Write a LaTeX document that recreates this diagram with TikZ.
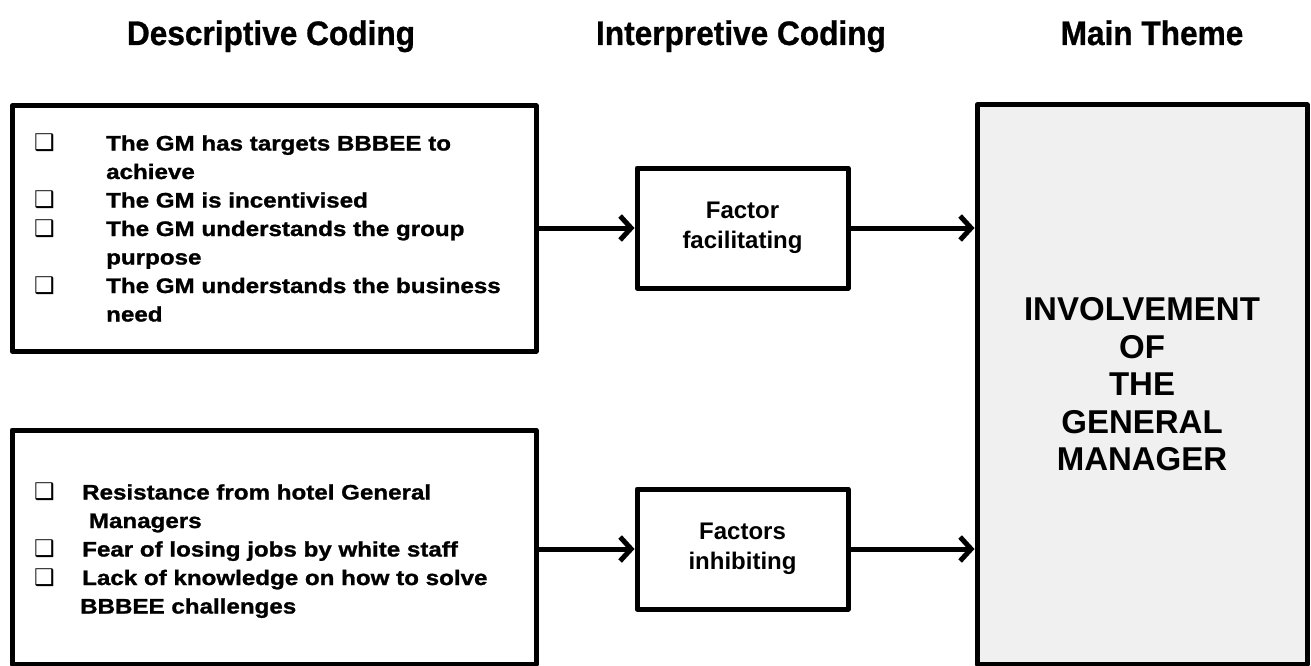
\documentclass[tikz,border=0pt]{standalone}
\usepackage{fontspec}
\setmainfont{Liberation Sans}
\newfontfamily\headfont[FakeStretch=0.93,FakeBold=0.8]{Liberation Sans}
\newfontfamily\itemfont[FakeStretch=1.15,FakeBold=1.2]{Liberation Sans}
\newfontfamily\symfont{DejaVu Sans}
\usetikzlibrary{arrows.meta}
\definecolor{themefill}{HTML}{F0F0F0}
\newcommand\boxmark{{\symfont\fontsize{23}{23}\selectfont ❑}}

\begin{document}
\begin{tikzpicture}[x=1pt,y=-1pt,
  frame/.style={draw=black, line width=5pt, line join=round, inner sep=0pt},
  heading/.style={anchor=base, inner sep=0pt, font=\headfont\bfseries\fontsize{34}{34}\selectfont},
  itemlist/.style={anchor=base west, inner sep=0pt, font=\itemfont\bfseries\fontsize{21}{28.5}\selectfont},
  factorbox/.style={frame, minimum width=211pt, minimum height=120pt, align=center,
                    font=\bfseries\fontsize{24}{30}\selectfont},
  flow/.style={line width=5pt, -{Straight Barb[length=11pt,width=24pt]}}]

\useasboundingbox (0,0) rectangle (1311,666);
\fill[white] (0,0) rectangle (1311,666);

% column headings
\node[heading] (hdesc)  at (271,45)  {Descriptive Coding};
\node[heading] (hinter) at (741,45)  {Interpretive Coding};
\node[heading] (htheme) at (1152,45) {Main Theme};

% descriptive coding boxes
\node[frame, minimum width=524pt, minimum height=245pt] (desc) at (274,228.5) {};
\node[frame, minimum width=524pt, minimum height=234pt] (inhib) at (274,547) {};

\node[itemlist] (desclist) at (34,150.5) {%
  \begin{tabular}[t]{@{}p{72pt}@{}l@{}}
    \boxmark & The GM has targets BBBEE to\\
             & achieve\\
    \boxmark & The GM is incentivised\\
    \boxmark & The GM understands the group\\
             & purpose\\
    \boxmark & The GM understands the business\\
             & need
  \end{tabular}};

\node[itemlist] (inhiblist) at (34,499.5) {%
  \begin{tabular}[t]{@{}p{48pt}@{}l@{}}
    \boxmark & Resistance from hotel General\\
             & \ Managers\\
    \boxmark & Fear of losing jobs by white staff\\
    \boxmark & Lack of knowledge on how to solve\\
             & \hspace{-2pt}BBBEE challenges
  \end{tabular}};

% interpretive coding boxes
\node[factorbox] (fac) at (742.5,228) {Factor\\facilitating};
\node[factorbox] (inh) at (742.5,549) {Factors\\inhibiting};

% main theme
\node[frame, fill=themefill, minimum width=330pt, minimum height=559pt, align=center,
      font=\bfseries\fontsize{33}{37.5}\selectfont] (theme) at (1142,384.5)
  {INVOLVEMENT\\OF\\THE\\GENERAL\\MANAGER};

% connectors
\draw[flow] (desc.east |- fac.west) -- (fac.west);
\draw[flow] (fac.east) -- (fac.east -| theme.west);
\draw[flow] (inhib.east |- inh.west) -- (inh.west);
\draw[flow] (inh.east) -- (inh.east -| theme.west);
\end{tikzpicture}
\end{document}
